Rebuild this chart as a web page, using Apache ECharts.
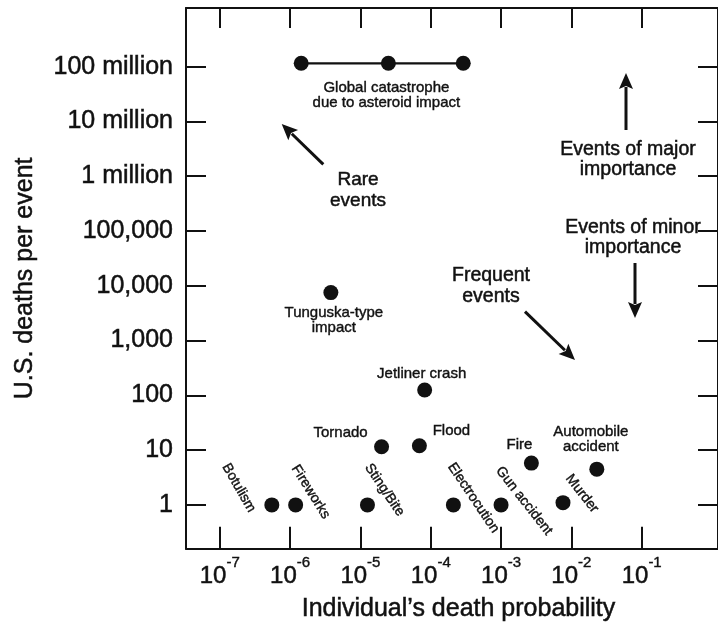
<!DOCTYPE html>
<html>
<head>
<meta charset="utf-8">
<script src="https://cdn.jsdelivr.net/npm/echarts@6/dist/echarts.min.js"></script>
<style>
html,body{margin:0;padding:0;background:#fff;}
#chart{width:718px;height:627px;}
</style>
</head>
<body>
<div id="chart"></div>
<script>
// ---------- data ----------
const eventNames = ['Botulism', 'Fireworks', 'Sting/Bite', 'Tornado', 'Flood', 'Tunguska-type\nimpact',
  'Jetliner crash', 'Electrocution', 'Gun accident', 'Fire', 'Murder', 'Automobile\naccident'];
const eventProbability = [5.5e-7, 1.2e-6, 1.26e-5, 2.0e-5, 6.9e-5, 3.8e-6, 8.2e-5, 2.1e-4, 1.0e-3, 2.7e-3, 7.6e-3, 2.3e-2];
const eventDeaths = [1, 1, 1, 11.5, 12, 7500, 125, 1, 1, 5.8, 1.1, 4.5];

const asteroidProbability = [1.44e-6, 2.5e-5, 2.9e-4];
const asteroidDeaths = [1.15e8, 1.15e8, 1.15e8];
const asteroidLabel = 'Global catastrophe\ndue to asteroid impact';

const xTickValues = [1e-7, 1e-6, 1e-5, 1e-4, 1e-3, 1e-2, 1e-1];
const yTickValues = [1, 10, 100, 1000, 10000, 100000, 1e6, 1e7, 1e8];
const yTickLabels = ['1', '10', '100', '1,000', '10,000', '100,000', '1 million', '10 million', '100 million'];

const xAxisTitle = 'Individual\u2019s death probability';
const yAxisTitle = 'U.S. deaths per event';

// ---------- styling (label placement per event, screen offsets in px) ----------
const FONT = '"Liberation Sans", Arial, Helvetica, sans-serif';
const INK = '#111111';
const labelPlacement = [
  {offset: [-33, -17], rotate: -60, size: 14},
  {offset: [15, -13], rotate: -58, size: 14},
  {offset: [17, -15], rotate: -56, size: 14},
  {offset: [-41, -14], rotate: 0, size: 15},
  {offset: [32, -15], rotate: 0, size: 15},
  {offset: [3, 28], rotate: 0, size: 15},
  {offset: [-3, -16], rotate: 0, size: 15},
  {offset: [20, -7], rotate: -56, size: 14},
  {offset: [23, -4], rotate: -52, size: 14},
  {offset: [-12, -18], rotate: 0, size: 15},
  {offset: [19, -9], rotate: -52, size: 14},
  {offset: [-6, -30], rotate: 0, size: 15}
];

// label offsets are applied in the rotated frame; convert screen offset to local
function localOffset(off, rotDeg) {
  const r = rotDeg * Math.PI / 180;
  const c = Math.cos(r), s = Math.sin(r);
  return [off[0] * c - off[1] * s, off[0] * s + off[1] * c];
}

const eventData = eventProbability.map((p, i) => ({
  name: eventNames[i],
  value: [p, eventDeaths[i]],
  label: {
    show: true,
    position: 'inside',
    formatter: '{b}',
    offset: localOffset(labelPlacement[i].offset, labelPlacement[i].rotate),
    rotate: labelPlacement[i].rotate,
    fontSize: labelPlacement[i].size,
    lineHeight: 15,
    align: 'center',
    verticalAlign: 'middle',
    color: INK,
    textBorderColor: INK,
    textBorderWidth: 0.4,
    fontFamily: FONT
  }
}));

const asteroidData = asteroidProbability.map((p, i) => {
  const item = {value: [p, asteroidDeaths[i]]};
  if (i === 1) {
    item.label = {
      show: true, position: 'inside', offset: [-2, 32], formatter: asteroidLabel,
      fontSize: 15, lineHeight: 15, color: INK, textBorderColor: INK, textBorderWidth: 0.4,
      fontFamily: FONT, align: 'center', verticalAlign: 'middle'
    };
  }
  return item;
});

const expOf = v => Math.round(Math.log10(v));

const axisLineStyle = {show: true, lineStyle: {color: INK, width: 2}};

function arrow(x1, y1, x2, y2) {
  const dx = x2 - x1, dy = y2 - y1;
  const len = Math.sqrt(dx * dx + dy * dy);
  const ux = dx / len, uy = dy / len;
  const hl = 16, hw = 7;
  const bx = x2 - ux * hl, by = y2 - uy * hl;
  return [
    {type: 'line', shape: {x1: x1, y1: y1, x2: bx + ux * 2, y2: by + uy * 2},
      style: {stroke: INK, lineWidth: 3}, z: 10},
    {type: 'polygon', shape: {points: [[x2, y2], [bx - uy * hw, by + ux * hw], [bx + ux * 3, by + uy * 3], [bx + uy * hw, by - ux * hw]]},
      style: {fill: INK}, z: 10}
  ];
}

function note(text, x, y, size, lh) {
  return {type: 'text', x: x, y: y, z: 10,
    style: {text: text, fill: INK, stroke: INK, lineWidth: 0.5, fontSize: size, fontFamily: FONT, lineHeight: lh,
      align: 'center', verticalAlign: 'middle'}};
}

const chart = echarts.init(document.getElementById('chart'), null, {renderer: 'canvas'});

const xMin = Math.pow(10, -7.48), xMax = Math.pow(10, 0.085);
const yMin = Math.pow(10, -0.8), yMax = Math.pow(10, 9.07);

chart.setOption({
  animation: false,
  backgroundColor: '#ffffff',
  textStyle: {fontFamily: FONT, color: INK},
  grid: {left: 186, right: -5, top: 8, bottom: 75, containLabel: false},
  xAxis: [
    {
      type: 'log', logBase: 10, min: xMin, max: xMax, position: 'bottom',
      axisLine: axisLineStyle,
      axisTick: {show: true, inside: true, length: 22, lineStyle: {color: INK, width: 2}, customValues: xTickValues},
      minorTick: {show: false},
      splitLine: {show: false},
      axisLabel: {
        show: true, margin: 7, customValues: xTickValues,
        formatter: v => '{b|10}{s|-' + (-expOf(v)) + '}',
        rich: {
          b: {fontSize: 24, color: INK, fontFamily: FONT, textBorderColor: INK, textBorderWidth: 0.5},
          s: {fontSize: 15, color: INK, fontFamily: FONT, padding: [0, 0, 26, 0], textBorderColor: INK, textBorderWidth: 0.4}
        }
      },
      name: xAxisTitle, nameLocation: 'middle', nameGap: 48,
      nameTextStyle: {fontSize: 25, color: INK, fontFamily: FONT, padding: [0, 0, 0, 13],
        textBorderColor: INK, textBorderWidth: 0.5}
    },
    {
      type: 'log', logBase: 10, min: xMin, max: xMax, position: 'top',
      axisLine: axisLineStyle,
      axisTick: {show: true, inside: true, length: 20, lineStyle: {color: INK, width: 2}, customValues: xTickValues},
      axisLabel: {show: false},
      splitLine: {show: false}
    }
  ],
  yAxis: [
    {
      type: 'log', logBase: 10, min: yMin, max: yMax, position: 'left',
      axisLine: axisLineStyle,
      axisTick: {show: true, inside: true, length: 20, lineStyle: {color: INK, width: 2}, customValues: yTickValues},
      splitLine: {show: false},
      axisLabel: {
        show: true, margin: 13, customValues: yTickValues,
        formatter: v => yTickLabels[expOf(v)],
        fontSize: 25, color: INK, fontFamily: FONT, textBorderColor: INK, textBorderWidth: 0.5
      },
      name: yAxisTitle, nameLocation: 'middle', nameGap: 148, nameRotate: 90,
      nameTextStyle: {fontSize: 25, color: INK, fontFamily: FONT, textBorderColor: INK, textBorderWidth: 0.5}
    },
    {
      type: 'log', logBase: 10, min: yMin, max: yMax, position: 'right',
      axisLine: axisLineStyle,
      axisTick: {show: true, inside: true, length: 20, lineStyle: {color: INK, width: 2}, customValues: yTickValues},
      axisLabel: {show: false},
      splitLine: {show: false}
    }
  ],
  series: [
    {
      type: 'line', name: 'Asteroid impact', xAxisIndex: 0, yAxisIndex: 0,
      data: asteroidData,
      symbol: 'circle', symbolSize: 15,
      lineStyle: {color: INK, width: 2.2},
      itemStyle: {color: INK, opacity: 1},
      z: 3
    },
    {
      type: 'scatter', name: 'Events', xAxisIndex: 0, yAxisIndex: 0,
      data: eventData,
      symbol: 'circle', symbolSize: 15,
      itemStyle: {color: INK, opacity: 1},
      z: 3
    }
  ],
  graphic: [].concat(
    arrow(323.3, 164.3, 281.7, 124),
    arrow(525, 311.7, 575, 360),
    arrow(626, 130, 626, 73),
    arrow(635, 263, 635, 318),
    [
      note('Rare\nevents', 358, 190.5, 19, 21),
      note('Frequent\nevents', 491, 286, 19.5, 21.5),
      note('Events of major\nimportance', 628, 160, 19.5, 20),
      note('Events of minor\nimportance', 633, 238, 19.5, 20)
    ]
  )
});
</script>
</body>
</html>
